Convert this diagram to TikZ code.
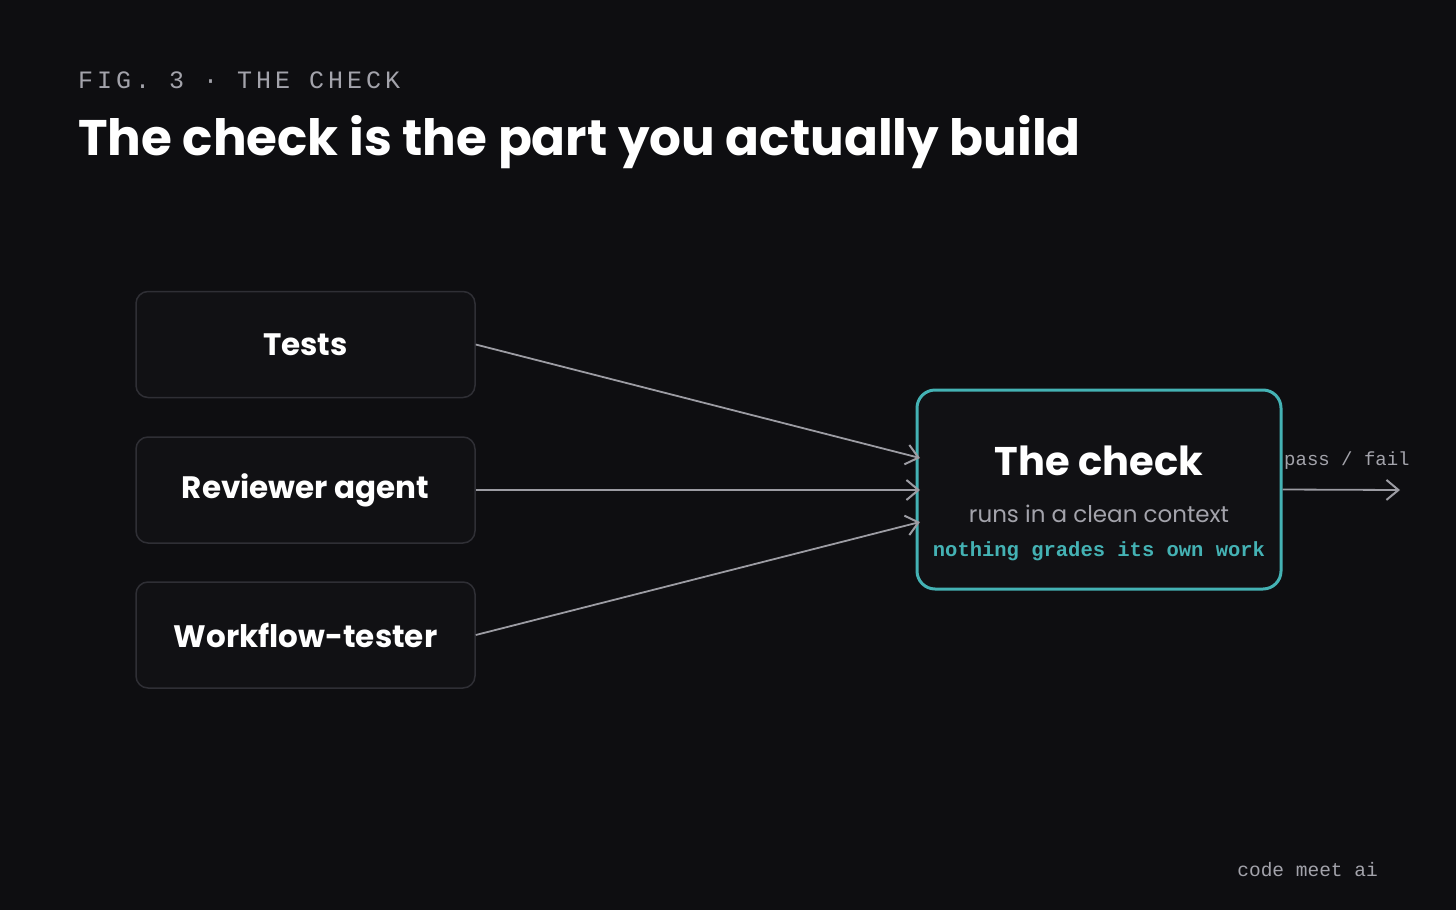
\documentclass[tikz,border=0pt]{standalone}
\usepackage{fontspec}
\setmainfont{Poppins}
\setmonofont{Liberation Mono}
\newfontfamily\figfont[LetterSpace=16]{Liberation Mono}
\usetikzlibrary{arrows.meta}

\definecolor{bgdark}{HTML}{0E0E11}
\definecolor{boxfill}{HTML}{111114}
\definecolor{boxline}{HTML}{2F2F35}
\definecolor{tealline}{HTML}{44B2B4}
\definecolor{greytext}{HTML}{A3A3AB}
\definecolor{wireline}{HTML}{9C9CA3}

\tikzset{
  srcbox/.style={draw=boxline, line width=1.5pt, fill=boxfill, rounded corners=12pt,
    minimum width=339pt, minimum height=106pt, text=white, font=\fontsize{31}{36}\selectfont\bfseries},
  wire/.style={draw=wireline, line width=1.8pt, -{Straight Barb[length=12pt, width=20pt, line width=2pt]}}
}

\begin{document}
\begin{tikzpicture}[x=1pt, y=-1pt]
    \fill[bgdark] (0,0) rectangle (1456,910);
    \useasboundingbox (0,0) rectangle (1456,910);

    \node[anchor=base west, inner sep=0, text=greytext, font=\fontsize{25}{30}\selectfont\figfont] (fig) at (78,88) {FIG. 3 · THE CHECK};
    \node[anchor=base west, inner sep=0, text=white, font=\fontsize{50}{60}\selectfont\bfseries] (title) at (78,155) {The check is the part you actually build};

    \node[srcbox] (tests) at (305.5, 344.5) {Tests};
    \node[srcbox] (reviewer) at (305.5, 490) {Reviewer agent};
    \node[srcbox] (workflow) at (305.5, 635) {Workflow-tester};

    \node[draw=tealline, line width=3pt, fill=boxfill, rounded corners=18pt,
          minimum width=364pt, minimum height=199pt] (check) at (1099, 489.5) {};
    \node[text=white, font=\fontsize{40}{46}\selectfont\bfseries] (checktitle) at (1099, 461) {The check};
    \node[text=greytext, font=\fontsize{23}{28}\selectfont] (clean) at (1099, 514) {runs in a clean context};
    \node[text=tealline, font=\fontsize{20.5}{24}\selectfont\ttfamily\bfseries] (nograde) at (1099, 551) {nothing grades its own work};

    \coordinate (inA) at (920, 458);
    \coordinate (inB) at (920, 490);
    \coordinate (inC) at (920, 522);
    \coordinate (result) at (1400, 490);

    \draw[wire] (tests.east) -- (inA);
    \draw[wire] (reviewer.east) -- (inB);
    \draw[wire] (workflow.east) -- (inC);
    \draw[wire] (check.east) -- (result);
    \node[anchor=base west, inner sep=0, text=greytext, font=\fontsize{19}{22}\selectfont\ttfamily] (passfail) at (1284, 465) {pass / fail};

    \node[anchor=base east, inner sep=0, text=greytext, font=\fontsize{19.5}{22}\selectfont\ttfamily] (brand) at (1378, 876) {code meet ai};
\end{tikzpicture}
\end{document}
